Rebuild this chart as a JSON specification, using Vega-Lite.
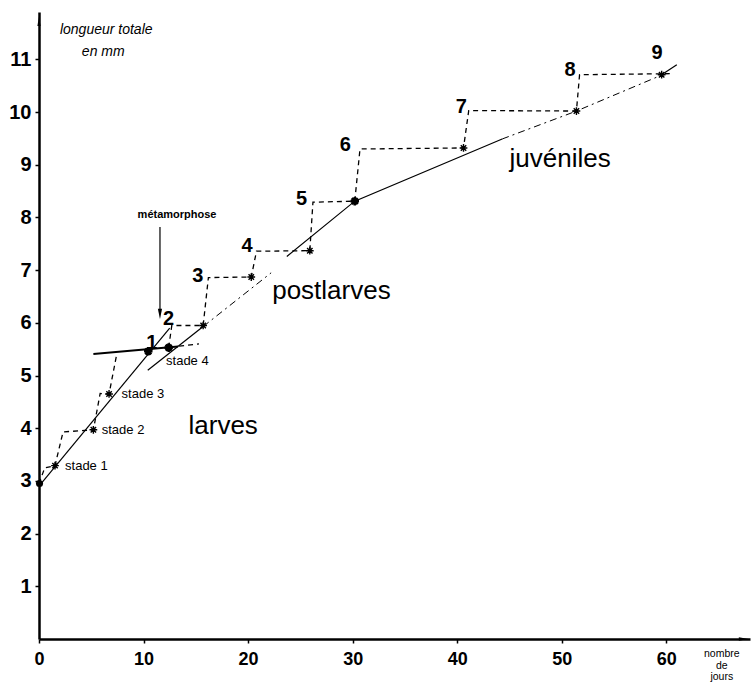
{
  "$schema": "https://vega.github.io/schema/vega-lite/v6.json",
  "width": 711,
  "height": 627,
  "autosize": "none",
  "padding": {"left": 39, "top": 12, "right": 2, "bottom": 56},
  "background": "white",
  "config": {"view": {"stroke": null}, "font": "Liberation Sans"},
  "datasets": {
    "lines": [
      {"id": "larves", "ord": 1, "x": 0, "y": 2.9},
      {"id": "larves", "ord": 2, "x": 12.5, "y": 5.9},
      {"id": "meta", "ord": 1, "x": 5.2, "y": 5.41},
      {"id": "meta", "ord": 2, "x": 13.3, "y": 5.55},
      {"id": "post_solid", "ord": 1, "x": 10.4, "y": 5.1},
      {"id": "post_solid", "ord": 2, "x": 15.7, "y": 5.93},
      {"id": "post_dot", "ord": 1, "x": 15.7, "y": 5.93},
      {"id": "post_dot", "ord": 2, "x": 22.2, "y": 6.95},
      {"id": "juv_solid", "ord": 1, "x": 23.7, "y": 7.26},
      {"id": "juv_solid", "ord": 2, "x": 30.2, "y": 8.31},
      {"id": "juv_solid", "ord": 3, "x": 44.3, "y": 9.49},
      {"id": "juv_dot", "ord": 1, "x": 44.3, "y": 9.49},
      {"id": "juv_dot", "ord": 2, "x": 51.4, "y": 10.02},
      {"id": "juv_dot", "ord": 3, "x": 59.4, "y": 10.69},
      {"id": "juv_end", "ord": 1, "x": 59.4, "y": 10.69},
      {"id": "juv_end", "ord": 2, "x": 61.0, "y": 10.9},
      {"id": "arrow", "ord": 1, "x": 11.57, "y": 7.82},
      {"id": "arrow", "ord": 2, "x": 11.57, "y": 6.25},
      {"id": "steps_a", "ord": 1, "x": 0, "y": 2.95},
      {"id": "steps_a", "ord": 2, "x": 0.55, "y": 3.25},
      {"id": "steps_a", "ord": 3, "x": 1.53, "y": 3.29},
      {"id": "steps_a", "ord": 4, "x": 2.3, "y": 3.93},
      {"id": "steps_a", "ord": 5, "x": 5.2, "y": 3.97},
      {"id": "steps_a", "ord": 6, "x": 5.85, "y": 4.66},
      {"id": "steps_a", "ord": 7, "x": 6.7, "y": 4.65},
      {"id": "steps_a", "ord": 8, "x": 7.45, "y": 5.42},
      {"id": "steps_b", "ord": 1, "x": 12.4, "y": 5.53},
      {"id": "steps_b", "ord": 2, "x": 12.7, "y": 5.95},
      {"id": "steps_b", "ord": 3, "x": 15.7, "y": 5.95},
      {"id": "steps_b", "ord": 4, "x": 16.2, "y": 6.86},
      {"id": "steps_b", "ord": 5, "x": 20.3, "y": 6.87},
      {"id": "steps_b", "ord": 6, "x": 20.8, "y": 7.36},
      {"id": "steps_b", "ord": 7, "x": 25.9, "y": 7.37},
      {"id": "steps_b", "ord": 8, "x": 26.2, "y": 8.29},
      {"id": "steps_b", "ord": 9, "x": 30.2, "y": 8.31},
      {"id": "steps_b", "ord": 10, "x": 30.7, "y": 9.3},
      {"id": "steps_b", "ord": 11, "x": 40.6, "y": 9.32},
      {"id": "steps_b", "ord": 12, "x": 41.1, "y": 10.03},
      {"id": "steps_b", "ord": 13, "x": 51.4, "y": 10.02},
      {"id": "steps_b", "ord": 14, "x": 51.7, "y": 10.71},
      {"id": "steps_b", "ord": 15, "x": 60.7, "y": 10.73},
      {"id": "steps_c", "ord": 1, "x": 13.4, "y": 5.56},
      {"id": "steps_c", "ord": 2, "x": 15.3, "y": 5.6}
    ],
    "stars": [
      {"x": 1.53, "y": 3.29, "kind": "small"},
      {"x": 5.2, "y": 3.97, "kind": "small"},
      {"x": 6.7, "y": 4.65, "kind": "small"},
      {"x": 10.45, "y": 5.46, "kind": "big"},
      {"x": 12.4, "y": 5.53, "kind": "big"},
      {"x": 15.7, "y": 5.95, "kind": "small"},
      {"x": 20.3, "y": 6.87, "kind": "small"},
      {"x": 25.9, "y": 7.37, "kind": "small"},
      {"x": 30.2, "y": 8.31, "kind": "big"},
      {"x": 40.6, "y": 9.32, "kind": "small"},
      {"x": 51.4, "y": 10.02, "kind": "small"},
      {"x": 59.55, "y": 10.71, "kind": "small"}
    ],
    "dots": [{"x": 0.05, "y": 2.95}],
    "heads": [
      {"x": 0, "y": 11.72, "dir": "up"},
      {"x": 67.4, "y": 0, "dir": "right"},
      {"x": 11.57, "y": 6.17, "dir": "down"}
    ],
    "labels": [
      {"x": 10.8, "y": 5.62, "text": "1", "kind": "num"},
      {"x": 12.4, "y": 6.07, "text": "2", "kind": "num"},
      {"x": 15.2, "y": 6.89, "text": "3", "kind": "num"},
      {"x": 19.9, "y": 7.45, "text": "4", "kind": "num"},
      {"x": 25.1, "y": 8.35, "text": "5", "kind": "num"},
      {"x": 29.3, "y": 9.38, "text": "6", "kind": "num"},
      {"x": 40.4, "y": 10.1, "text": "7", "kind": "num"},
      {"x": 50.8, "y": 10.8, "text": "8", "kind": "num"},
      {"x": 59.1, "y": 11.12, "text": "9", "kind": "num"},
      {"x": 2.49, "y": 3.29, "text": "stade 1", "kind": "stade"},
      {"x": 6.0, "y": 3.97, "text": "stade 2", "kind": "stade"},
      {"x": 7.9, "y": 4.65, "text": "stade 3", "kind": "stade"},
      {"x": 12.15, "y": 5.28, "text": "stade 4", "kind": "stade"},
      {"x": 14.3, "y": 4.05, "text": "larves", "kind": "phase"},
      {"x": 22.3, "y": 6.61, "text": "postlarves", "kind": "phase"},
      {"x": 45.0, "y": 9.11, "text": "juvéniles", "kind": "phase"},
      {"x": 13.2, "y": 8.04, "text": "métamorphose", "kind": "meta"},
      {"x": 2.0, "y": 11.55, "text": "longueur totale", "kind": "ytitle"},
      {"x": 4.1, "y": 11.14, "text": "en mm", "kind": "ytitle"},
      {"x": 65.3, "y": -0.29, "text": "nombre", "kind": "xtitle"},
      {"x": 65.3, "y": -0.51, "text": "de", "kind": "xtitle"},
      {"x": 65.3, "y": -0.73, "text": "jours", "kind": "xtitle"}
    ]
  },
  "encoding": {
    "x": {
      "field": "x", "type": "quantitative",
      "scale": {"domain": [0, 68], "nice": false, "zero": false},
      "axis": {
        "values": [0, 10, 20, 30, 40, 50, 60], "title": null, "grid": false,
        "domainColor": "black", "domainWidth": 2.5, "tickColor": "black", "tickWidth": 1.5, "tickSize": 4,
        "labelFont": "Liberation Sans", "labelFontWeight": "bold", "labelFontSize": 18, "labelColor": "black",
        "labelPadding": 7, "labelFlush": false
      }
    },
    "y": {
      "field": "y", "type": "quantitative",
      "scale": {"domain": [0, 11.9], "nice": false, "zero": false},
      "axis": {
        "values": [1, 2, 3, 4, 5, 6, 7, 8, 9, 10, 11], "title": null, "grid": false,
        "domainColor": "black", "domainWidth": 2.5, "tickColor": "black", "tickWidth": 1.5, "tickSize": 4,
        "labelFont": "Liberation Sans", "labelFontWeight": "bold", "labelFontSize": 20, "labelColor": "black",
        "labelPadding": 4, "labelFlush": false
      }
    }
  },
  "layer": [
    {
      "data": {"name": "lines"},
      "transform": [{"filter": {"field": "id", "oneOf": ["larves", "post_solid", "juv_solid", "juv_end", "arrow"]}}],
      "mark": {"type": "line", "color": "black", "strokeWidth": 1.2},
      "encoding": {"detail": {"field": "id"}, "order": {"field": "ord"}}
    },
    {
      "data": {"name": "lines"},
      "transform": [{"filter": {"field": "id", "equal": "meta"}}],
      "mark": {"type": "line", "color": "black", "strokeWidth": 2},
      "encoding": {"order": {"field": "ord"}}
    },
    {
      "data": {"name": "lines"},
      "transform": [{"filter": {"field": "id", "oneOf": ["post_dot", "juv_dot"]}}],
      "mark": {"type": "line", "color": "black", "strokeWidth": 1, "strokeDash": [7, 4, 2, 4]},
      "encoding": {"detail": {"field": "id"}, "order": {"field": "ord"}}
    },
    {
      "data": {"name": "lines"},
      "transform": [{"filter": {"field": "id", "oneOf": ["steps_a", "steps_b", "steps_c"]}}],
      "mark": {"type": "line", "color": "black", "strokeWidth": 1.3, "strokeDash": [5, 4]},
      "encoding": {"detail": {"field": "id"}, "order": {"field": "ord"}}
    },
    {
      "data": {"name": "stars"},
      "mark": {"type": "point", "shape": "M-1,0L1,0M0,-1L0,1M-0.7,-0.7L0.7,0.7M-0.7,0.7L0.7,-0.7", "filled": false, "color": "black", "opacity": 1},
      "encoding": {
        "size": {"field": "kind", "type": "nominal", "scale": {"domain": ["small", "big"], "range": [60, 110]}, "legend": null},
        "strokeWidth": {"field": "kind", "type": "nominal", "scale": {"domain": ["small", "big"], "range": [1.4, 2.6]}, "legend": null}
      }
    },
    {
      "data": {"name": "dots"},
      "mark": {"type": "point", "shape": "circle", "filled": true, "color": "black", "size": 50, "opacity": 1}
    },
    {
      "data": {"name": "heads"},
      "mark": {"type": "point", "filled": true, "color": "black", "opacity": 1},
      "encoding": {
        "shape": {"field": "dir", "type": "nominal", "scale": {"domain": ["up", "right", "down"], "range": ["M0,-1L0.35,1L-0.35,1Z", "M1,0L-1,0.35L-1,-0.35Z", "M0,1L0.4,-1L-0.4,-1Z"]}, "legend": null},
        "size": {"field": "dir", "type": "nominal", "scale": {"domain": ["up", "right", "down"], "range": [230, 200, 45]}, "legend": null}
      }
    },
    {
      "data": {"name": "labels"},
      "transform": [{"filter": {"field": "kind", "equal": "num"}}],
      "mark": {"type": "text", "font": "Liberation Sans", "fontWeight": "bold", "fontSize": 20, "color": "black", "align": "center", "baseline": "middle"},
      "encoding": {"text": {"field": "text"}}
    },
    {
      "data": {"name": "labels"},
      "transform": [{"filter": {"field": "kind", "equal": "stade"}}],
      "mark": {"type": "text", "font": "Liberation Sans", "fontSize": 13, "color": "black", "align": "left", "baseline": "middle"},
      "encoding": {"text": {"field": "text"}}
    },
    {
      "data": {"name": "labels"},
      "transform": [{"filter": {"field": "kind", "equal": "phase"}}],
      "mark": {"type": "text", "font": "Liberation Sans", "fontSize": 26, "color": "black", "align": "left", "baseline": "middle"},
      "encoding": {"text": {"field": "text"}}
    },
    {
      "data": {"name": "labels"},
      "transform": [{"filter": {"field": "kind", "equal": "meta"}}],
      "mark": {"type": "text", "font": "Liberation Sans", "fontWeight": "bold", "fontSize": 11, "color": "black", "align": "center", "baseline": "middle"},
      "encoding": {"text": {"field": "text"}}
    },
    {
      "data": {"name": "labels"},
      "transform": [{"filter": {"field": "kind", "equal": "ytitle"}}],
      "mark": {"type": "text", "font": "Liberation Sans", "fontStyle": "italic", "fontSize": 14, "color": "black", "align": "left", "baseline": "middle"},
      "encoding": {"text": {"field": "text"}}
    },
    {
      "data": {"name": "labels"},
      "transform": [{"filter": {"field": "kind", "equal": "xtitle"}}],
      "mark": {"type": "text", "font": "Liberation Sans", "fontSize": 10.5, "color": "black", "align": "center", "baseline": "middle"},
      "encoding": {"text": {"field": "text"}}
    }
  ]
}
